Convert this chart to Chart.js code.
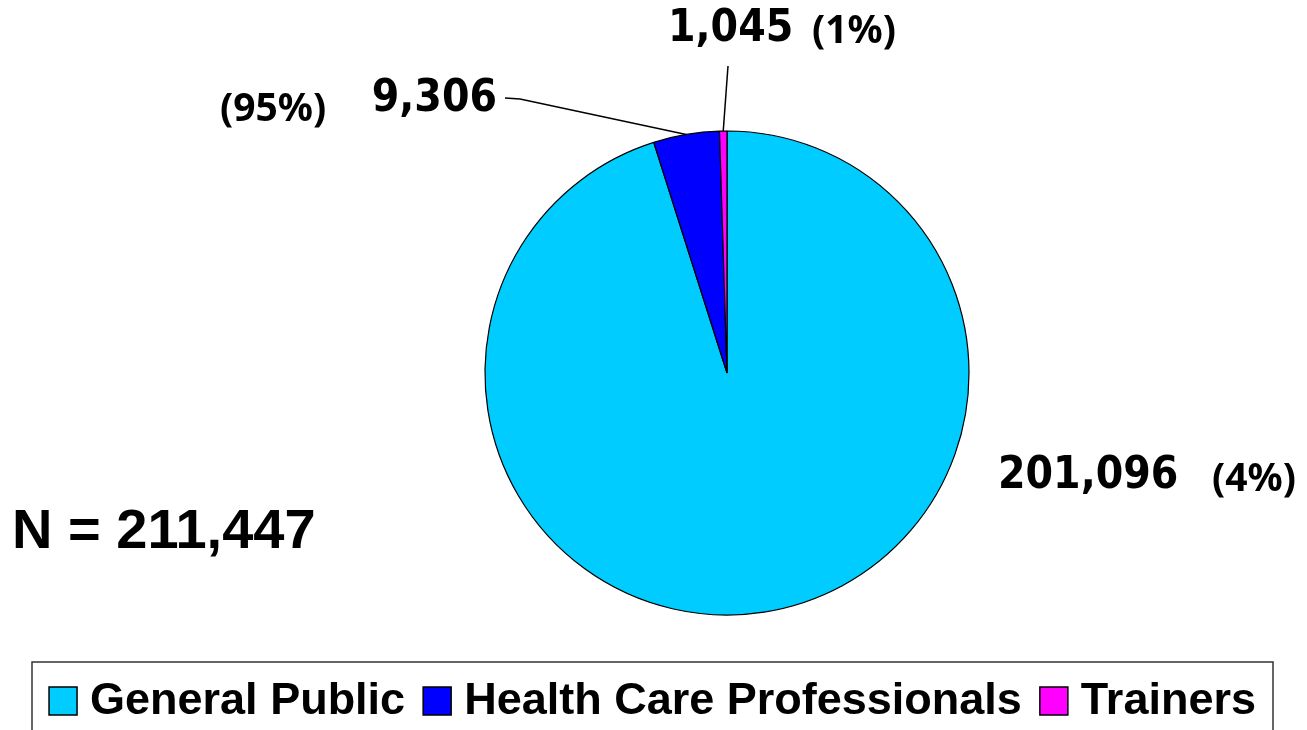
<!DOCTYPE html>
<html>
<head>
<meta charset="utf-8">
<script src="https://cdn.jsdelivr.net/npm/chart.js@4/dist/chart.umd.min.js"></script>
<style>
  body { margin: 0; background: #fff; }
  canvas { display: block; }
</style>
</head>
<body>
<canvas id="pie" width="1307" height="730"></canvas>
<script>
// data
var categories = ['General Public', 'Health Care Professionals', 'Trainers'];
var counts = [201096, 9306, 1045];
var countLabels = ['201,096', '9,306', '1,045'];
var pctLabels = ['(4%)', '(95%)', '(1%)'];   // as printed on the original
var colors = ['#00CCFF', '#0000FF', '#FF00FF'];
var totalLabel = 'N = 211,447';

var numFont = 'bold 44px "DejaVu Sans Condensed", "DejaVu Sans", sans-serif';
var pctFont = 'bold 39px "Noto Sans", "Open Sans", sans-serif';
var legendFont = 'bold 45px "Liberation Sans", Arial, sans-serif';

/**
 * Draws the slice labels, leader lines, the N total and the boxed legend.
 */
var annotate = {
	id: 'annotate',
	afterDraw: function(chart) {
		var ctx = chart.ctx;
		var arcs = chart.getDatasetMeta(0).data;
		var cx = arcs[0].x;
		var cy = arcs[0].y;

		function edgePoint(i) {
			var a = arcs[i];
			var mid = (a.startAngle + a.endAngle) / 2;
			return [a.x + Math.cos(mid) * a.outerRadius, a.y + Math.sin(mid) * a.outerRadius];
		}

		ctx.save();
		ctx.fillStyle = '#000';
		ctx.textBaseline = 'middle';

		// general public, right side
		ctx.font = numFont;
		ctx.textAlign = 'left';
		ctx.fillText(countLabels[0], cx + 271, cy + 104);
		ctx.font = pctFont;
		ctx.fillText(pctLabels[0], cx + 485, cy + 107);

		// health care professionals, upper left with leader
		ctx.font = numFont;
		ctx.textAlign = 'right';
		ctx.fillText(countLabels[1], cx - 230, cy - 273);
		ctx.font = pctFont;
		ctx.textAlign = 'left';
		ctx.fillText(pctLabels[1], cx - 507, cy - 263);
		var p1 = edgePoint(1);
		ctx.strokeStyle = '#000';
		ctx.lineWidth = 1.5;
		ctx.beginPath();
		ctx.moveTo(cx - 222, cy - 275);
		ctx.lineTo(cx - 207, cy - 274);
		ctx.lineTo(p1[0], p1[1]);
		ctx.stroke();

		// trainers, top with leader
		ctx.font = numFont;
		ctx.textAlign = 'left';
		ctx.fillText(countLabels[2], cx - 59, cy - 343);
		ctx.font = pctFont;
		ctx.fillText(pctLabels[2], cx + 85, cy - 341);
		var p2 = edgePoint(2);
		ctx.beginPath();
		ctx.moveTo(cx + 1, cy - 307);
		ctx.lineTo(p2[0], p2[1]);
		ctx.stroke();

		// total
		ctx.font = 'bold 56px "Liberation Sans", Arial, sans-serif';
		ctx.textAlign = 'left';
		ctx.fillText(totalLabel, 12, 533);

		// legend box
		var boxL = 32, boxR = 1273, boxT = 662;
		ctx.lineWidth = 1.5;
		ctx.strokeStyle = '#333';
		ctx.strokeRect(boxL, boxT, boxR - boxL, 100);

		var sq = 28, gapText = 13, gapItem = 18;
		ctx.font = legendFont;
		var widths = categories.map(function(c) { return ctx.measureText(c).width; });
		var total = 0;
		for (var i = 0; i < categories.length; i++) {
			total += sq + gapText + widths[i];
		}
		total += gapItem * (categories.length - 1);
		var x = (boxL + boxR) / 2 - total / 2;
		var ly = 701;
		for (var j = 0; j < categories.length; j++) {
			ctx.fillStyle = colors[j];
			ctx.fillRect(x, ly - sq / 2, sq, sq);
			ctx.strokeStyle = '#000';
			ctx.lineWidth = 1.5;
			ctx.strokeRect(x, ly - sq / 2, sq, sq);
			ctx.fillStyle = '#000';
			ctx.textAlign = 'left';
			ctx.fillText(categories[j], x + sq + gapText, ly + 1);
			x += sq + gapText + widths[j] + gapItem;
		}
		ctx.restore();
	}
};

var config = {
	type: 'pie',
	data: {
		labels: categories,
		datasets: [{
			data: counts,
			backgroundColor: colors,
			borderColor: '#000',
			borderWidth: 1.2,
			radius: 242
		}]
	},
	options: {
		responsive: false,
		animation: false,
		layout: {
			padding: { left: 147, right: 0, top: 75, bottom: 59 }
		},
		plugins: {
			legend: { display: false },
			tooltip: { enabled: false }
		}
	},
	plugins: [annotate]
};

new Chart(document.getElementById('pie'), config);
</script>
</body>
</html>
